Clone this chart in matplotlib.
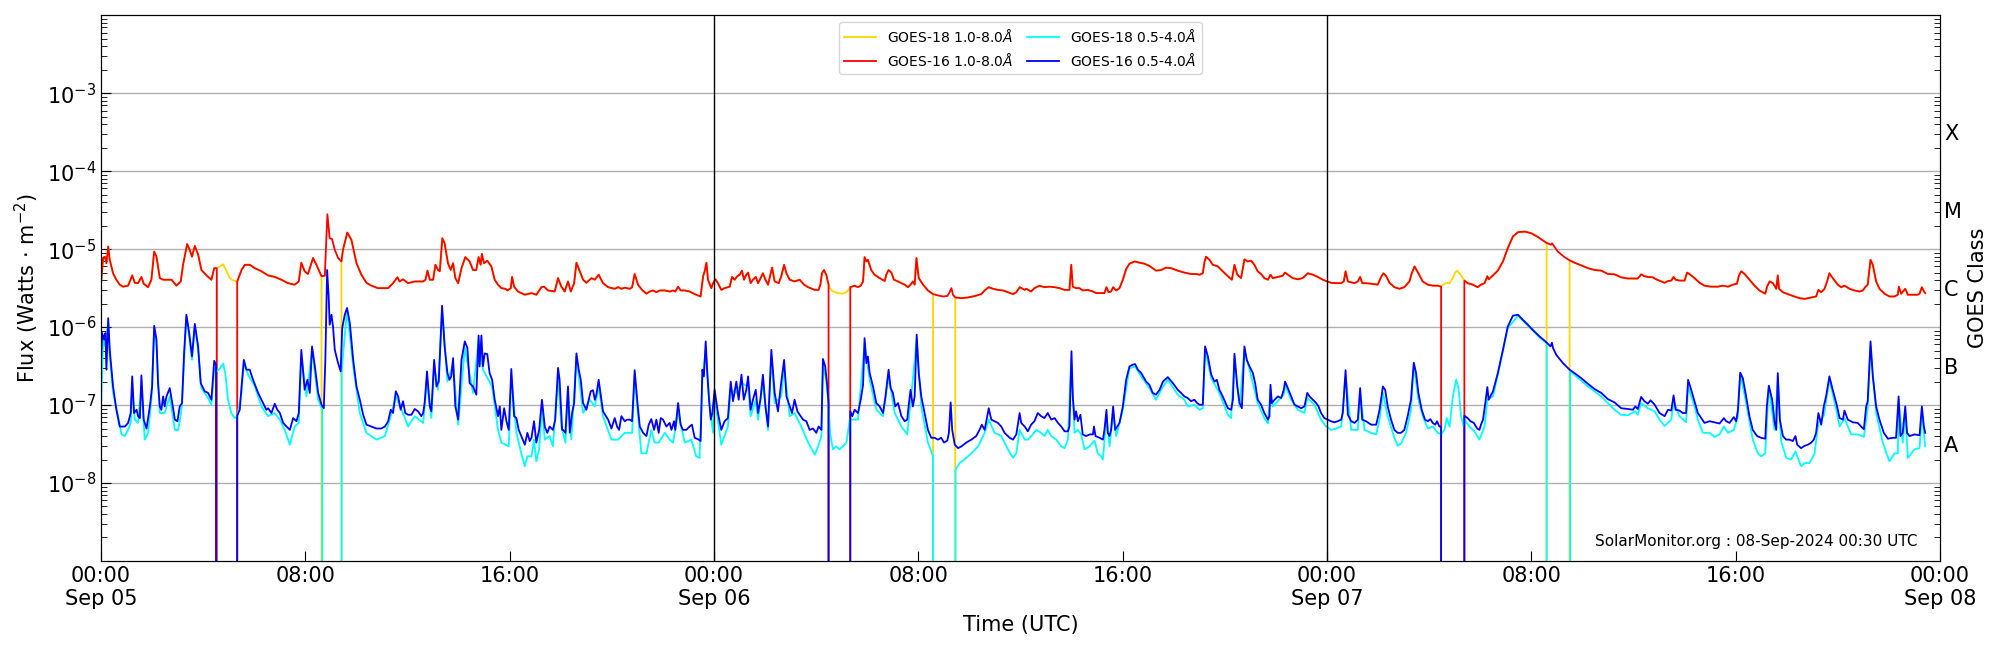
import numpy as np
import pandas as pd
import matplotlib
matplotlib.use("Agg")
import matplotlib.pyplot as plt
import matplotlib.dates as mdates
import matplotlib.ticker as mticker

# hours after 2024-09-05 00:00 UTC, flux in W/m^2 (0.0 = no data)
START = pd.Timestamp("2024-09-05 00:00")

# GOES-16 1.0-8.0 A (red)
goes16_long = [
    (0.00, 3.3e-6), (0.09, 7.7e-6), (0.16, 8.0e-6), (0.22, 6.6e-6), (0.29, 1.08e-5),
    (0.35, 7.3e-6), (0.48, 4.9e-6), (0.61, 4.05e-6), (0.74, 3.5e-6), (0.87, 3.3e-6),
    (1.07, 3.4e-6), (1.23, 4.6e-6), (1.33, 3.7e-6), (1.46, 3.66e-6), (1.59, 4.4e-6),
    (1.68, 3.6e-6), (1.85, 3.25e-6), (1.98, 4.05e-6), (2.09, 9.3e-6), (2.18, 8.0e-6),
    (2.31, 4.25e-6), (2.44, 4.05e-6), (2.64, 4.05e-6), (2.77, 4.05e-6), (2.96, 3.4e-6),
    (3.13, 3.85e-6), (3.22, 6.3e-6), (3.38, 1.16e-5), (3.48, 9.8e-6), (3.57, 8.0e-6),
    (3.68, 1.1e-5), (3.81, 8.5e-6), (3.94, 5.4e-6), (4.14, 4.6e-6), (4.33, 4.05e-6),
    (4.44, 5.7e-6), (4.54, 5.7e-6), (4.56, 0.0), (5.32, 0.0), (5.34, 3.85e-6),
    (5.51, 5.4e-6), (5.64, 6.3e-6), (5.83, 6.3e-6), (6.03, 5.7e-6), (6.29, 5.2e-6),
    (6.55, 4.6e-6), (6.81, 4.4e-6), (7.07, 4.05e-6), (7.33, 3.66e-6), (7.59, 3.5e-6),
    (7.75, 3.85e-6), (7.85, 6.7e-6), (7.98, 5.2e-6), (8.11, 4.8e-6), (8.31, 7.7e-6),
    (8.44, 6.3e-6), (8.64, 4.5e-6), (8.77, 4.55e-6), (8.87, 2.8e-5), (8.96, 1.38e-5),
    (9.05, 1.35e-5), (9.16, 9.8e-6), (9.29, 7.7e-6), (9.42, 6.95e-6), (9.48, 9.8e-6),
    (9.65, 1.63e-5), (9.81, 1.32e-5), (10.01, 6.6e-6), (10.20, 4.7e-6), (10.40, 3.7e-6),
    (10.59, 3.4e-6), (10.85, 3.16e-6), (11.25, 3.16e-6), (11.44, 3.66e-6), (11.61, 4.35e-6),
    (11.70, 3.85e-6), (11.83, 4.1e-6), (12.03, 3.66e-6), (12.29, 3.85e-6), (12.62, 3.85e-6),
    (12.71, 4.05e-6), (12.79, 5.3e-6), (12.88, 4.05e-6), (13.01, 4.05e-6), (13.10, 6.3e-6),
    (13.20, 5.4e-6), (13.27, 5.2e-6), (13.37, 1.38e-5), (13.46, 1.19e-5), (13.59, 6.6e-6),
    (13.70, 5.4e-6), (13.79, 6.6e-6), (13.88, 4.25e-6), (13.99, 3.66e-6), (14.12, 5.7e-6),
    (14.27, 7.9e-6), (14.44, 6.95e-6), (14.57, 5.4e-6), (14.70, 5.4e-6), (14.79, 7.9e-6),
    (14.87, 6.3e-6), (14.92, 8.7e-6), (15.00, 6.6e-6), (15.13, 7.1e-6), (15.29, 6.0e-6),
    (15.42, 4.05e-6), (15.55, 3.5e-6), (15.68, 3.16e-6), (15.84, 3.1e-6), (15.92, 2.95e-6),
    (16.05, 3.16e-6), (16.10, 4.4e-6), (16.18, 3.3e-6), (16.33, 2.86e-6), (16.60, 2.6e-6),
    (16.86, 2.73e-6), (17.05, 2.6e-6), (17.25, 3.25e-6), (17.35, 3.3e-6), (17.51, 2.95e-6),
    (17.77, 2.86e-6), (17.90, 4.25e-6), (18.03, 3.3e-6), (18.16, 2.86e-6), (18.29, 3.85e-6),
    (18.40, 2.86e-6), (18.53, 3.66e-6), (18.62, 6.7e-6), (18.75, 5.2e-6), (18.88, 4.05e-6),
    (19.01, 3.7e-6), (19.21, 4.25e-6), (19.34, 4.05e-6), (19.49, 4.7e-6), (19.66, 3.66e-6),
    (19.86, 3.25e-6), (20.12, 3.1e-6), (20.25, 3.25e-6), (20.38, 3.1e-6), (20.51, 3.2e-6),
    (20.71, 3.1e-6), (20.80, 3.25e-6), (20.90, 4.8e-6), (21.03, 3.5e-6), (21.19, 3.0e-6),
    (21.36, 2.68e-6), (21.49, 2.86e-6), (21.62, 2.95e-6), (21.75, 2.8e-6), (21.88, 2.95e-6),
    (22.08, 2.95e-6), (22.27, 2.86e-6), (22.40, 2.95e-6), (22.49, 2.86e-6), (22.60, 3.3e-6),
    (22.70, 2.95e-6), (22.86, 2.95e-6), (23.05, 2.86e-6), (23.25, 2.65e-6), (23.48, 2.47e-6),
    (23.58, 4.5e-6), (23.64, 5.2e-6), (23.71, 6.7e-6), (23.77, 4.05e-6), (23.90, 3.16e-6),
    # Sep 06
    (23.97, 3.66e-6), (24.06, 4.1e-6), (24.16, 3.66e-6), (24.29, 3.0e-6), (24.42, 3.16e-6),
    (24.62, 3.3e-6), (24.71, 4.4e-6), (24.81, 4.05e-6), (24.92, 4.5e-6), (25.01, 4.7e-6),
    (25.10, 5.3e-6), (25.18, 4.05e-6), (25.27, 4.7e-6), (25.34, 5.0e-6), (25.44, 3.66e-6),
    (25.53, 4.05e-6), (25.64, 4.4e-6), (25.73, 3.66e-6), (25.83, 4.25e-6), (25.92, 4.9e-6),
    (26.02, 4.05e-6), (26.12, 3.5e-6), (26.28, 5.8e-6), (26.38, 3.85e-6), (26.54, 3.66e-6),
    (26.64, 4.5e-6), (26.75, 6.3e-6), (26.84, 4.9e-6), (26.97, 4.05e-6), (27.16, 3.85e-6),
    (27.36, 4.05e-6), (27.53, 3.5e-6), (27.69, 3.25e-6), (27.95, 3.0e-6), (28.10, 3.0e-6),
    (28.17, 3.5e-6), (28.23, 4.9e-6), (28.31, 5.4e-6), (28.40, 4.7e-6), (28.49, 3.5e-6),
    (28.51, 0.0), (29.32, 0.0), (29.34, 3.25e-6), (29.51, 3.4e-6), (29.64, 3.25e-6),
    (29.75, 3.4e-6), (29.84, 3.85e-6), (29.90, 7.9e-6), (29.97, 6.95e-6), (30.03, 7.3e-6),
    (30.16, 5.4e-6), (30.29, 4.7e-6), (30.49, 4.25e-6), (30.69, 3.9e-6), (30.75, 4.7e-6),
    (30.84, 5.4e-6), (30.95, 5.0e-6), (31.05, 4.05e-6), (31.21, 3.85e-6), (31.34, 3.66e-6),
    (31.47, 3.5e-6), (31.60, 3.25e-6), (31.70, 3.5e-6), (31.79, 3.85e-6), (31.86, 3.5e-6),
    (31.93, 7.7e-6), (32.02, 4.25e-6), (32.19, 3.5e-6), (32.38, 2.95e-6), (32.58, 2.65e-6),
    (32.77, 2.55e-6), (32.97, 2.47e-6), (33.14, 2.5e-6), (33.23, 2.8e-6), (33.30, 3.16e-6),
    (33.36, 2.6e-6), (33.45, 2.4e-6), (33.69, 2.35e-6), (33.95, 2.4e-6), (34.21, 2.5e-6),
    (34.47, 2.65e-6), (34.60, 2.95e-6), (34.76, 3.25e-6), (34.93, 3.1e-6), (35.12, 3.0e-6),
    (35.32, 2.95e-6), (35.51, 2.8e-6), (35.71, 2.65e-6), (35.84, 2.8e-6), (35.97, 3.25e-6),
    (36.17, 3.0e-6), (36.23, 3.1e-6), (36.42, 2.86e-6), (36.55, 3.16e-6), (36.75, 3.4e-6),
    (36.94, 3.25e-6), (37.14, 3.3e-6), (37.34, 3.25e-6), (37.53, 3.16e-6), (37.73, 3.0e-6),
    (37.92, 3.0e-6), (37.99, 6.3e-6), (38.05, 3.3e-6), (38.18, 3.16e-6), (38.31, 3.16e-6),
    (38.44, 2.95e-6), (38.64, 3.0e-6), (38.84, 2.86e-6), (38.97, 2.73e-6), (39.19, 2.73e-6),
    (39.29, 2.73e-6), (39.37, 3.25e-6), (39.45, 2.8e-6), (39.55, 2.86e-6), (39.63, 3.25e-6),
    (39.75, 2.95e-6), (39.88, 3.16e-6), (40.01, 4.05e-6), (40.14, 5.55e-6), (40.27, 6.5e-6),
    (40.47, 6.95e-6), (40.66, 6.7e-6), (40.86, 6.5e-6), (41.05, 6.1e-6), (41.31, 5.3e-6),
    (41.51, 5.4e-6), (41.71, 5.8e-6), (41.90, 5.7e-6), (42.16, 5.3e-6), (42.42, 5.0e-6),
    (42.68, 4.8e-6), (42.88, 4.8e-6), (43.01, 4.7e-6), (43.14, 4.9e-6), (43.21, 6.95e-6),
    (43.27, 8.0e-6), (43.40, 7.3e-6), (43.53, 6.3e-6), (43.73, 6.0e-6), (43.92, 5.2e-6),
    (44.12, 4.5e-6), (44.28, 4.05e-6), (44.38, 6.3e-6), (44.49, 4.7e-6), (44.64, 4.25e-6),
    (44.77, 7.4e-6), (44.90, 6.95e-6), (45.03, 7.1e-6), (45.16, 6.3e-6), (45.29, 5.2e-6),
    (45.42, 4.8e-6), (45.55, 4.25e-6), (45.69, 4.05e-6), (45.79, 4.7e-6), (45.88, 4.25e-6),
    (46.08, 4.4e-6), (46.27, 4.55e-6), (46.36, 5.0e-6), (46.47, 4.7e-6), (46.66, 4.25e-6),
    (46.86, 4.1e-6), (47.05, 4.25e-6), (47.25, 4.9e-6), (47.45, 4.7e-6), (47.64, 4.4e-6),
    (47.84, 4.05e-6),
    # Sep 07
    (47.97, 3.9e-6), (48.16, 3.7e-6), (48.36, 3.66e-6), (48.56, 3.66e-6), (48.66, 3.85e-6),
    (48.73, 5.2e-6), (48.82, 3.85e-6), (49.08, 3.66e-6), (49.21, 3.85e-6), (49.30, 4.4e-6),
    (49.38, 3.66e-6), (49.53, 3.66e-6), (49.73, 3.6e-6), (49.99, 3.5e-6), (50.12, 4.4e-6),
    (50.21, 4.9e-6), (50.32, 4.5e-6), (50.45, 3.7e-6), (50.64, 3.25e-6), (50.84, 3.1e-6),
    (51.03, 3.25e-6), (51.23, 3.85e-6), (51.32, 4.9e-6), (51.43, 6.0e-6), (51.58, 4.9e-6),
    (51.75, 3.85e-6), (51.95, 3.5e-6), (52.14, 3.4e-6), (52.34, 3.4e-6), (52.47, 3.3e-6),
    (52.49, 0.0), (53.36, 0.0), (53.38, 3.95e-6), (53.51, 3.66e-6), (53.71, 3.5e-6),
    (53.90, 3.25e-6), (54.03, 3.5e-6), (54.17, 3.66e-6), (54.28, 4.5e-6), (54.33, 4.1e-6),
    (54.50, 4.6e-6), (54.69, 5.3e-6), (54.89, 6.95e-6), (55.08, 1.03e-5), (55.28, 1.45e-5),
    (55.48, 1.65e-5), (55.74, 1.68e-5), (56.00, 1.6e-5), (56.26, 1.43e-5), (56.52, 1.25e-5),
    (56.60, 1.2e-5), (56.78, 1.14e-5), (56.81, 1.19e-5), (57.04, 9.3e-6), (57.30, 7.9e-6),
    (57.50, 7.2e-6), (57.69, 6.7e-6), (57.95, 6.2e-6), (58.22, 5.7e-6), (58.48, 5.4e-6),
    (58.74, 5.3e-6), (59.00, 4.8e-6), (59.26, 4.75e-6), (59.52, 4.35e-6), (59.78, 4.2e-6),
    (60.04, 4.2e-6), (60.17, 4.2e-6), (60.30, 4.75e-6), (60.43, 4.5e-6), (60.56, 4.4e-6),
    (60.76, 4.35e-6), (60.89, 4.1e-6), (61.09, 3.85e-6), (61.22, 3.7e-6), (61.35, 3.9e-6),
    (61.48, 3.95e-6), (61.57, 4.4e-6), (61.65, 4.05e-6), (61.80, 3.95e-6), (62.00, 3.95e-6),
    (62.10, 5.0e-6), (62.19, 4.8e-6), (62.39, 4.25e-6), (62.59, 3.7e-6), (62.78, 3.4e-6),
    (63.04, 3.3e-6), (63.30, 3.3e-6), (63.50, 3.4e-6), (63.70, 3.3e-6), (63.89, 3.5e-6),
    (64.05, 3.6e-6), (64.13, 4.6e-6), (64.22, 5.2e-6), (64.35, 4.8e-6), (64.54, 4.05e-6),
    (64.74, 3.4e-6), (64.93, 2.95e-6), (65.06, 2.8e-6), (65.16, 2.68e-6), (65.23, 3.3e-6),
    (65.33, 3.85e-6), (65.46, 3.66e-6), (65.59, 3.1e-6), (65.65, 4.6e-6), (65.70, 3.1e-6),
    (65.85, 2.8e-6), (66.04, 2.65e-6), (66.30, 2.47e-6), (66.50, 2.35e-6), (66.70, 2.3e-6),
    (66.96, 2.4e-6), (67.15, 2.47e-6), (67.24, 3.0e-6), (67.35, 2.8e-6), (67.48, 3.1e-6),
    (67.58, 3.85e-6), (67.67, 4.9e-6), (67.80, 4.25e-6), (68.00, 3.5e-6), (68.13, 3.25e-6),
    (68.26, 3.4e-6), (68.46, 3.1e-6), (68.65, 2.95e-6), (68.85, 2.86e-6), (68.98, 2.95e-6),
    (69.07, 3.25e-6), (69.17, 3.5e-6), (69.28, 7.3e-6), (69.37, 6.3e-6), (69.50, 3.85e-6),
    (69.63, 3.1e-6), (69.83, 2.68e-6), (70.02, 2.47e-6), (70.22, 2.47e-6), (70.35, 2.6e-6),
    (70.39, 3.3e-6), (70.48, 2.68e-6), (70.64, 3.1e-6), (70.74, 2.6e-6), (70.94, 2.6e-6),
    (71.13, 2.6e-6), (71.20, 2.68e-6), (71.29, 3.25e-6), (71.39, 2.8e-6), (71.42, 2.73e-6),
]

# GOES-16 0.5-4.0 A (blue)
goes16_short = [
    (0.00, 3.0e-7), (0.05, 8.4e-7), (0.13, 6.9e-7), (0.18, 8.4e-7), (0.22, 2.84e-7),
    (0.29, 1.3e-6), (0.35, 5.1e-7), (0.48, 1.73e-7), (0.61, 8.7e-8), (0.74, 5.3e-8),
    (0.94, 5.3e-8), (1.07, 5.9e-8), (1.17, 7.9e-8), (1.23, 2.33e-7), (1.30, 7.9e-8),
    (1.40, 8.7e-8), (1.46, 7.2e-8), (1.53, 6.8e-8), (1.59, 2.4e-7), (1.68, 6.5e-8),
    (1.79, 5.0e-8), (1.92, 9.6e-8), (2.01, 1.73e-7), (2.09, 1.04e-6), (2.18, 6.9e-7),
    (2.24, 1.91e-7), (2.31, 9.6e-8), (2.37, 8.7e-8), (2.44, 1.29e-7), (2.50, 9.6e-8),
    (2.57, 1.29e-7), (2.70, 1.65e-7), (2.79, 1.1e-7), (2.90, 6.5e-8), (3.00, 6.2e-8),
    (3.09, 9.6e-8), (3.18, 1.06e-7), (3.26, 4.6e-7), (3.35, 1.44e-6), (3.46, 8.4e-7),
    (3.57, 4.2e-7), (3.68, 1.1e-6), (3.81, 5.65e-7), (3.91, 1.91e-7), (4.07, 1.5e-7),
    (4.20, 1.43e-7), (4.33, 1.17e-7), (4.44, 3.7e-7), (4.51, 3.3e-7), (4.56, 0.0),
    (5.32, 0.0), (5.34, 7.3e-8), (5.44, 8.7e-8), (5.51, 1.73e-7), (5.60, 3.8e-7),
    (5.70, 2.84e-7), (5.83, 2.84e-7), (5.96, 2.11e-7), (6.16, 1.43e-7), (6.35, 1.06e-7),
    (6.48, 8.7e-8), (6.55, 9.1e-8), (6.68, 7.9e-8), (6.81, 1.04e-7), (6.91, 8.7e-8),
    (7.01, 7.9e-8), (7.14, 5.9e-8), (7.27, 5.3e-8), (7.40, 4.8e-8), (7.53, 6.8e-8),
    (7.66, 6.2e-8), (7.75, 7.9e-8), (7.85, 5.1e-7), (7.98, 1.57e-7), (8.09, 2.11e-7),
    (8.18, 1.43e-7), (8.27, 5.65e-7), (8.38, 3.13e-7), (8.51, 1.43e-7), (8.64, 1.01e-7),
    (8.73, 9.1e-8), (8.79, 3.8e-7), (8.86, 5.4e-6), (8.92, 2.47e-6), (8.96, 1.07e-6),
    (9.03, 1.44e-6), (9.09, 1.02e-6), (9.16, 5.1e-7), (9.29, 3.45e-7), (9.39, 2.7e-7),
    (9.45, 9.7e-7), (9.55, 1.44e-6), (9.64, 1.76e-6), (9.75, 1.12e-6), (9.88, 3.8e-7),
    (10.01, 1.73e-7), (10.14, 1.17e-7), (10.27, 7.5e-8), (10.40, 5.6e-8), (10.59, 5.3e-8),
    (10.79, 5.0e-8), (10.98, 5.0e-8), (11.12, 5.3e-8), (11.25, 6.2e-8), (11.35, 8.7e-8),
    (11.44, 7.9e-8), (11.55, 1.5e-7), (11.64, 1.29e-7), (11.74, 8.7e-8), (11.83, 1.12e-7),
    (11.92, 7.9e-8), (12.03, 7.5e-8), (12.16, 7.5e-8), (12.29, 8.9e-8), (12.42, 8.3e-8),
    (12.55, 7.2e-8), (12.62, 7.9e-8), (12.68, 1.08e-7), (12.77, 2.7e-7), (12.88, 9.6e-8),
    (12.94, 8.3e-8), (13.05, 3.8e-7), (13.14, 1.73e-7), (13.23, 2.0e-7), (13.36, 1.88e-6),
    (13.46, 5.65e-7), (13.57, 2.57e-7), (13.65, 2.11e-7), (13.72, 2.33e-7), (13.79, 4.0e-7),
    (13.88, 9.6e-8), (13.99, 6.5e-8), (14.12, 3.8e-7), (14.25, 6.55e-7), (14.35, 5.4e-7),
    (14.44, 1.91e-7), (14.57, 1.73e-7), (14.70, 1.36e-7), (14.79, 7.8e-7), (14.83, 3.13e-7),
    (14.90, 7.8e-7), (14.96, 3.13e-7), (15.03, 4.6e-7), (15.13, 4.5e-7), (15.22, 2.57e-7),
    (15.32, 2.11e-7), (15.42, 1.17e-7), (15.55, 7.2e-8), (15.62, 9.6e-8), (15.68, 4.8e-8),
    (15.79, 9.1e-8), (15.88, 6.2e-8), (15.97, 4.8e-8), (16.07, 2.9e-7), (16.18, 7.2e-8),
    (16.27, 6.8e-8), (16.36, 4.8e-8), (16.46, 4.0e-8), (16.60, 3.1e-8), (16.70, 4.4e-8),
    (16.79, 3.45e-8), (16.86, 3.8e-8), (16.96, 6.2e-8), (17.05, 3.3e-8), (17.16, 4.8e-8),
    (17.27, 1.17e-7), (17.38, 5.3e-8), (17.48, 4.4e-8), (17.57, 5.3e-8), (17.70, 4.8e-8),
    (17.79, 6.5e-8), (17.90, 3.0e-7), (17.96, 2.11e-7), (18.06, 4.8e-8), (18.10, 4.8e-8),
    (18.19, 4.4e-8), (18.29, 1.73e-7), (18.36, 4.4e-8), (18.45, 7.9e-8), (18.53, 1.06e-7),
    (18.62, 4.6e-7), (18.71, 2.84e-7), (18.79, 2.11e-7), (18.88, 1.06e-7), (19.01, 8.7e-8),
    (19.10, 1.17e-7), (19.18, 1.5e-7), (19.27, 1.55e-7), (19.34, 1.17e-7), (19.40, 1.36e-7),
    (19.49, 2.11e-7), (19.60, 1.17e-7), (19.66, 8.3e-8), (19.86, 6.5e-8), (19.99, 5.0e-8),
    (20.12, 6.8e-8), (20.21, 5.3e-8), (20.29, 4.8e-8), (20.38, 7.2e-8), (20.51, 6.2e-8),
    (20.61, 6.5e-8), (20.71, 6.5e-8), (20.80, 6.2e-8), (20.90, 2.8e-7), (21.01, 1.06e-7),
    (21.10, 5.3e-8), (21.23, 4.4e-8), (21.36, 4.0e-8), (21.45, 5.6e-8), (21.55, 6.6e-8),
    (21.66, 4.8e-8), (21.75, 6.5e-8), (21.84, 4.4e-8), (21.92, 6.8e-8), (22.01, 6.5e-8),
    (22.14, 5.3e-8), (22.27, 5.9e-8), (22.34, 4.8e-8), (22.44, 6.2e-8), (22.49, 4.8e-8),
    (22.60, 1.06e-7), (22.70, 5.6e-8), (22.79, 4.8e-8), (22.92, 4.8e-8), (23.05, 5.3e-8),
    (23.14, 5.6e-8), (23.25, 3.8e-8), (23.41, 3.6e-8), (23.48, 3.45e-8), (23.55, 2.84e-7),
    (23.61, 2.33e-7), (23.68, 6.55e-7), (23.75, 2.33e-7), (23.81, 1.17e-7), (23.88, 6.5e-8),
    # Sep 06
    (23.94, 7.9e-8), (24.03, 1.57e-7), (24.16, 7.9e-8), (24.29, 4.8e-8), (24.42, 6.2e-8),
    (24.55, 6.8e-8), (24.66, 2.0e-7), (24.75, 1.12e-7), (24.88, 2.0e-7), (24.97, 1.17e-7),
    (25.08, 2.45e-7), (25.17, 1.17e-7), (25.27, 1.57e-7), (25.34, 2.33e-7), (25.44, 8.7e-8),
    (25.53, 1.17e-7), (25.64, 1.57e-7), (25.73, 7.9e-8), (25.82, 1.17e-7), (25.92, 2.45e-7),
    (26.02, 9.6e-8), (26.12, 5.3e-8), (26.25, 5.1e-7), (26.38, 1.43e-7), (26.51, 8.3e-8),
    (26.64, 2.0e-7), (26.75, 3.8e-7), (26.84, 1.29e-7), (26.97, 9.6e-8), (27.06, 7.9e-8),
    (27.16, 1.17e-7), (27.27, 8.3e-8), (27.36, 7.5e-8), (27.49, 6.5e-8), (27.62, 6.2e-8),
    (27.75, 4.8e-8), (27.88, 5.0e-8), (28.01, 4.4e-8), (28.10, 5.3e-8), (28.21, 4.8e-8),
    (28.27, 3.9e-7), (28.36, 3.13e-7), (28.44, 1.73e-7), (28.49, 1.06e-7), (28.51, 0.0),
    (29.32, 0.0), (29.34, 8.3e-8), (29.42, 7.2e-8), (29.51, 8.7e-8), (29.64, 7.9e-8),
    (29.75, 1.17e-7), (29.84, 1.8e-7), (29.90, 7.2e-7), (29.97, 3.45e-7), (30.03, 4.2e-7),
    (30.10, 2.57e-7), (30.23, 1.73e-7), (30.36, 1.06e-7), (30.49, 9.6e-8), (30.62, 7.9e-8),
    (30.71, 1.23e-7), (30.84, 2.84e-7), (30.92, 1.65e-7), (31.01, 1.43e-7), (31.10, 9.6e-8),
    (31.21, 1.06e-7), (31.34, 7.2e-8), (31.47, 6.2e-8), (31.57, 6.5e-8), (31.63, 1.01e-7),
    (31.70, 1.57e-7), (31.79, 9.6e-8), (31.86, 1.29e-7), (31.94, 8.0e-7), (32.02, 2.57e-7),
    (32.12, 1.29e-7), (32.25, 7.9e-8), (32.38, 4.8e-8), (32.51, 3.8e-8), (32.64, 3.8e-8),
    (32.77, 3.6e-8), (32.90, 3.8e-8), (33.01, 3.3e-8), (33.14, 3.5e-8), (33.20, 4.4e-8),
    (33.27, 1.08e-7), (33.33, 4.8e-8), (33.43, 3.1e-8), (33.56, 2.8e-8), (33.69, 2.95e-8),
    (33.88, 3.3e-8), (34.08, 3.6e-8), (34.27, 4.0e-8), (34.40, 4.8e-8), (34.49, 5.6e-8),
    (34.60, 4.8e-8), (34.76, 9.1e-8), (34.86, 6.5e-8), (34.99, 6.2e-8), (35.12, 5.9e-8),
    (35.25, 5.3e-8), (35.38, 4.4e-8), (35.58, 3.8e-8), (35.71, 3.6e-8), (35.84, 4.2e-8),
    (35.97, 7.9e-8), (36.03, 5.9e-8), (36.17, 5.3e-8), (36.29, 4.6e-8), (36.42, 5.6e-8),
    (36.55, 6.2e-8), (36.68, 7.9e-8), (36.81, 7.2e-8), (36.94, 6.8e-8), (37.07, 7.9e-8),
    (37.21, 6.5e-8), (37.34, 6.8e-8), (37.47, 5.9e-8), (37.60, 5.3e-8), (37.73, 4.6e-8),
    (37.86, 4.6e-8), (37.92, 5.3e-8), (38.00, 4.9e-7), (38.05, 1.29e-7), (38.12, 6.5e-8),
    (38.18, 8.3e-8), (38.25, 6.2e-8), (38.35, 7.5e-8), (38.44, 4.2e-8), (38.57, 4.0e-8),
    (38.71, 4.2e-8), (38.84, 4.2e-8), (38.88, 5.3e-8), (38.94, 4.0e-8), (39.10, 3.8e-8),
    (39.23, 3.6e-8), (39.29, 4.8e-8), (39.37, 8.7e-8), (39.42, 4.4e-8), (39.49, 4.0e-8),
    (39.55, 4.8e-8), (39.63, 9.6e-8), (39.71, 4.8e-8), (39.88, 5.9e-8), (40.01, 9.6e-8),
    (40.14, 2.11e-7), (40.27, 3.13e-7), (40.40, 3.3e-7), (40.49, 3.35e-7), (40.60, 2.84e-7),
    (40.73, 2.57e-7), (40.92, 2.0e-7), (41.05, 1.82e-7), (41.18, 1.43e-7), (41.31, 1.36e-7),
    (41.45, 1.57e-7), (41.58, 2.0e-7), (41.77, 2.28e-7), (41.97, 1.91e-7), (42.16, 1.57e-7),
    (42.29, 1.43e-7), (42.42, 1.29e-7), (42.55, 1.23e-7), (42.68, 1.12e-7), (42.81, 1.17e-7),
    (42.92, 1.06e-7), (43.01, 1.01e-7), (43.14, 1.01e-7), (43.23, 5.65e-7), (43.34, 4.2e-7),
    (43.47, 2.45e-7), (43.60, 2.0e-7), (43.69, 2.11e-7), (43.79, 1.57e-7), (43.92, 1.29e-7),
    (44.12, 9.1e-8), (44.25, 8.7e-8), (44.32, 1.17e-7), (44.38, 4.55e-7), (44.49, 1.73e-7),
    (44.58, 1.06e-7), (44.67, 9.1e-8), (44.77, 5.65e-7), (44.86, 3.8e-7), (44.97, 3.13e-7),
    (45.10, 2.57e-7), (45.19, 1.91e-7), (45.29, 1.17e-7), (45.42, 1.01e-7), (45.55, 7.9e-8),
    (45.69, 6.5e-8), (45.75, 7.2e-8), (45.79, 1.82e-7), (45.84, 1.06e-7), (45.95, 1.17e-7),
    (46.08, 1.29e-7), (46.21, 1.23e-7), (46.31, 1.57e-7), (46.36, 2.0e-7), (46.47, 1.65e-7),
    (46.60, 1.29e-7), (46.73, 1.01e-7), (46.86, 9.6e-8), (46.99, 9.1e-8), (47.12, 9.6e-8),
    (47.23, 1.43e-7), (47.32, 1.29e-7), (47.45, 1.17e-7), (47.58, 1.06e-7), (47.67, 9.6e-8),
    (47.77, 7.9e-8), (47.90, 6.8e-8),
    # Sep 07
    (48.03, 6.5e-8), (48.16, 6.2e-8), (48.29, 6.0e-8), (48.42, 6.2e-8), (48.56, 6.5e-8),
    (48.62, 7.9e-8), (48.73, 2.8e-7), (48.82, 7.5e-8), (48.95, 6.2e-8), (49.08, 5.9e-8),
    (49.21, 6.5e-8), (49.30, 1.65e-7), (49.38, 6.5e-8), (49.53, 6.2e-8), (49.73, 5.6e-8),
    (49.93, 5.6e-8), (50.06, 8.7e-8), (50.19, 1.73e-7), (50.28, 1.57e-7), (50.38, 9.6e-8),
    (50.51, 6.5e-8), (50.64, 4.8e-8), (50.77, 4.4e-8), (50.90, 4.4e-8), (51.03, 4.8e-8),
    (51.16, 7.2e-8), (51.29, 1.17e-7), (51.40, 3.5e-7), (51.49, 2.57e-7), (51.58, 1.43e-7),
    (51.71, 8.7e-8), (51.84, 6.5e-8), (51.95, 6.2e-8), (52.05, 6.6e-8), (52.14, 5.9e-8),
    (52.24, 5.6e-8), (52.31, 6.2e-8), (52.40, 5.3e-8), (52.47, 5.3e-8), (52.49, 0.0),
    (53.36, 0.0), (53.38, 7.3e-8), (53.51, 6.8e-8), (53.62, 6.2e-8), (53.75, 5.9e-8),
    (53.88, 5.0e-8), (53.97, 4.8e-8), (54.03, 5.6e-8), (54.11, 6.5e-8), (54.20, 1.06e-7),
    (54.28, 1.7e-7), (54.33, 1.17e-7), (54.50, 1.5e-7), (54.69, 2.57e-7), (54.89, 5.1e-7),
    (55.08, 1.02e-6), (55.28, 1.4e-6), (55.48, 1.44e-6), (55.67, 1.24e-6), (55.87, 1.07e-6),
    (56.06, 9.2e-7), (56.32, 7.6e-7), (56.52, 6.7e-7), (56.61, 6.3e-7), (56.75, 5.65e-7),
    (56.81, 6.3e-7), (56.85, 5.4e-7), (56.98, 4.4e-7), (57.24, 3.45e-7), (57.50, 2.84e-7),
    (57.69, 2.57e-7), (57.95, 2.22e-7), (58.22, 1.87e-7), (58.48, 1.6e-7), (58.74, 1.43e-7),
    (59.00, 1.19e-7), (59.26, 1.08e-7), (59.52, 9.1e-8), (59.78, 8.9e-8), (59.98, 8.7e-8),
    (60.07, 9.6e-8), (60.17, 8.9e-8), (60.30, 1.27e-7), (60.43, 1.12e-7), (60.56, 1.04e-7),
    (60.67, 1.15e-7), (60.83, 1.01e-7), (61.02, 7.9e-8), (61.22, 7.2e-8), (61.35, 8.7e-8),
    (61.48, 8.5e-8), (61.57, 1.33e-7), (61.65, 8.7e-8), (61.80, 8.5e-8), (61.93, 7.9e-8),
    (62.06, 7.9e-8), (62.14, 2.11e-7), (62.26, 1.57e-7), (62.39, 1.12e-7), (62.52, 7.9e-8),
    (62.78, 5.9e-8), (62.98, 6.2e-8), (63.17, 6.0e-8), (63.37, 5.8e-8), (63.54, 6.8e-8),
    (63.63, 6.2e-8), (63.76, 5.9e-8), (63.93, 7.0e-8), (64.02, 6.2e-8), (64.09, 8.7e-8),
    (64.18, 2.6e-7), (64.28, 2.22e-7), (64.41, 1.29e-7), (64.54, 7.2e-8), (64.67, 4.8e-8),
    (64.84, 4.0e-8), (65.00, 3.8e-8), (65.16, 3.7e-8), (65.22, 9.6e-8), (65.30, 1.77e-7),
    (65.43, 1.17e-7), (65.52, 6.2e-8), (65.59, 4.8e-8), (65.65, 2.57e-7), (65.73, 6.5e-8),
    (65.85, 4.0e-8), (65.98, 3.6e-8), (66.11, 3.6e-8), (66.24, 3.45e-8), (66.34, 4.0e-8),
    (66.41, 3.1e-8), (66.56, 2.8e-8), (66.70, 3.0e-8), (66.83, 3.1e-8), (66.96, 3.3e-8),
    (67.06, 3.6e-8), (67.15, 4.4e-8), (67.24, 7.9e-8), (67.35, 5.6e-8), (67.45, 9.6e-8),
    (67.54, 1.29e-7), (67.67, 2.33e-7), (67.80, 1.57e-7), (67.94, 1.06e-7), (68.07, 6.8e-8),
    (68.20, 6.5e-8), (68.26, 8.5e-8), (68.39, 6.5e-8), (68.59, 6.0e-8), (68.78, 5.9e-8),
    (68.91, 5.3e-8), (69.02, 4.9e-8), (69.11, 9.6e-8), (69.17, 1.12e-7), (69.28, 6.55e-7),
    (69.37, 2.33e-7), (69.50, 9.6e-8), (69.63, 6.5e-8), (69.80, 4.4e-8), (69.96, 3.7e-8),
    (70.15, 3.8e-8), (70.28, 3.8e-8), (70.38, 1.29e-7), (70.45, 4.0e-8), (70.54, 4.4e-8),
    (70.64, 9.6e-8), (70.71, 4.4e-8), (70.81, 4.0e-8), (71.00, 4.2e-8), (71.20, 4.1e-8),
    (71.29, 9.6e-8), (71.37, 5.3e-8), (71.42, 4.4e-8),
]

# GOES-18 0.5-4.0 A (cyan)
goes18_short = [
    (0.00, 7.2e-8), (0.09, 6.9e-7), (0.18, 5.65e-7), (0.29, 1.12e-6), (0.35, 4.2e-7),
    (0.48, 1.43e-7), (0.68, 7.2e-8), (0.81, 4.2e-8), (0.94, 4.0e-8), (1.07, 4.8e-8),
    (1.17, 5.9e-8), (1.23, 1.73e-7), (1.33, 6.5e-8), (1.46, 5.9e-8), (1.59, 1.73e-7),
    (1.72, 3.6e-8), (1.85, 4.4e-8), (1.98, 1.17e-7), (2.09, 9.7e-7), (2.18, 5.65e-7),
    (2.31, 7.9e-8), (2.50, 7.9e-8), (2.70, 1.29e-7), (2.90, 4.8e-8), (3.03, 4.8e-8),
    (3.16, 8.7e-8), (3.26, 3.8e-7), (3.35, 1.37e-6), (3.46, 7.6e-7), (3.57, 3.8e-7),
    (3.68, 1.02e-6), (3.81, 5.1e-7), (3.94, 1.65e-7), (4.20, 1.23e-7), (4.33, 1.01e-7),
    (4.44, 2.95e-7), (4.54, 2.7e-7), (4.66, 2.95e-7), (4.79, 3.4e-7), (4.88, 2.45e-7),
    (4.98, 1.17e-7), (5.11, 7.9e-8), (5.24, 6.8e-8), (5.34, 7.2e-8), (5.51, 1.43e-7),
    (5.60, 3.45e-7), (5.77, 2.45e-7), (6.03, 1.73e-7), (6.29, 9.6e-8), (6.55, 7.2e-8),
    (6.81, 7.9e-8), (7.01, 6.5e-8), (7.20, 4.8e-8), (7.40, 3.1e-8), (7.59, 5.3e-8),
    (7.75, 5.9e-8), (7.85, 4.2e-7), (8.05, 1.29e-7), (8.27, 5.1e-7), (8.51, 1.17e-7),
    (8.67, 8.7e-8), (8.68, 0.0), (9.41, 0.0), (9.43, 2.7e-7), (9.64, 1.67e-6),
    (9.88, 3.13e-7), (10.14, 7.9e-8), (10.40, 4.4e-8), (10.79, 3.6e-8), (11.12, 4.0e-8),
    (11.35, 7.2e-8), (11.55, 1.29e-7), (11.83, 7.9e-8), (12.03, 5.3e-8), (12.29, 7.2e-8),
    (12.62, 5.9e-8), (12.77, 2.0e-7), (12.94, 6.8e-8), (13.05, 3.13e-7), (13.20, 1.57e-7),
    (13.36, 1.67e-6), (13.57, 2.0e-7), (13.79, 3.3e-7), (13.99, 5.6e-8), (14.25, 5.4e-7),
    (14.57, 1.43e-7), (14.79, 6.9e-7), (14.96, 2.84e-7), (15.32, 1.73e-7), (15.55, 4.8e-8),
    (15.68, 3.3e-8), (15.97, 2.95e-8), (16.07, 2.33e-7), (16.27, 4.4e-8), (16.46, 2.4e-8),
    (16.60, 1.64e-8), (16.70, 2.2e-8), (16.86, 2.2e-8), (16.96, 3.6e-8), (17.05, 1.9e-8),
    (17.16, 2.7e-8), (17.27, 9.6e-8), (17.38, 3.6e-8), (17.57, 4.0e-8), (17.70, 2.95e-8),
    (17.90, 2.45e-7), (18.03, 5.3e-8), (18.19, 3.3e-8), (18.29, 1.43e-7), (18.42, 3.6e-8),
    (18.62, 4.2e-7), (18.88, 7.9e-8), (19.14, 1.17e-7), (19.34, 9.6e-8), (19.49, 1.73e-7),
    (19.66, 7.2e-8), (19.99, 3.6e-8), (20.25, 3.6e-8), (20.51, 4.4e-8), (20.80, 4.4e-8),
    (20.90, 2.33e-7), (21.16, 2.4e-8), (21.36, 2.4e-8), (21.55, 4.8e-8), (21.68, 3.3e-8),
    (21.84, 3.3e-8), (22.08, 4.4e-8), (22.27, 3.6e-8), (22.40, 3.3e-8), (22.60, 7.9e-8),
    (22.86, 3.3e-8), (23.12, 3.6e-8), (23.31, 2.2e-8), (23.44, 2.1e-8), (23.55, 2.11e-7),
    (23.68, 5.1e-7), (23.84, 9.6e-8),
    # Sep 06
    (23.97, 4.4e-8), (24.03, 1.29e-7), (24.29, 3.1e-8), (24.55, 5.3e-8), (24.66, 1.57e-7),
    (24.88, 1.43e-7), (25.08, 1.91e-7), (25.34, 1.73e-7), (25.44, 7.2e-8), (25.64, 1.17e-7),
    (25.73, 6.5e-8), (25.92, 2.0e-7), (26.12, 4.8e-8), (26.25, 4.2e-7), (26.38, 1.06e-7),
    (26.64, 1.29e-7), (26.75, 3.13e-7), (26.97, 7.2e-8), (27.16, 7.9e-8), (27.42, 5.3e-8),
    (27.69, 3.3e-8), (27.95, 2.3e-8), (28.08, 2.95e-8), (28.21, 4.0e-8), (28.27, 3.3e-7),
    (28.40, 2.11e-7), (28.49, 9.6e-8), (28.55, 4.4e-8), (28.66, 2.7e-8), (28.79, 2.95e-8),
    (28.92, 2.7e-8), (29.05, 2.95e-8), (29.19, 3.3e-8), (29.32, 6.5e-8), (29.42, 6.5e-8),
    (29.64, 6.5e-8), (29.90, 6.2e-7), (30.10, 2.11e-7), (30.36, 8.7e-8), (30.62, 7.2e-8),
    (30.84, 2.33e-7), (31.08, 7.9e-8), (31.34, 5.3e-8), (31.57, 4.2e-8), (31.70, 1.06e-7),
    (31.94, 6.9e-7), (32.12, 9.6e-8), (32.38, 3.3e-8), (32.58, 2.2e-8), (32.62, 0.0),
    (33.44, 0.0), (33.46, 1.48e-8), (33.62, 1.8e-8), (33.81, 2.0e-8), (34.08, 2.4e-8),
    (34.34, 2.95e-8), (34.60, 4.4e-8), (34.76, 6.5e-8), (34.99, 4.4e-8), (35.25, 4.0e-8),
    (35.51, 2.7e-8), (35.71, 2.1e-8), (35.84, 2.4e-8), (35.97, 4.8e-8), (36.17, 3.6e-8),
    (36.29, 3.6e-8), (36.49, 4.2e-8), (36.62, 4.8e-8), (36.81, 4.4e-8), (36.94, 4.0e-8),
    (37.07, 4.8e-8), (37.21, 4.0e-8), (37.40, 3.6e-8), (37.60, 2.95e-8), (37.73, 2.8e-8),
    (37.86, 3.6e-8), (37.99, 3.8e-7), (38.12, 4.4e-8), (38.25, 4.8e-8), (38.38, 4.2e-8),
    (38.51, 2.7e-8), (38.71, 2.95e-8), (38.90, 3.5e-8), (39.03, 2.4e-8), (39.16, 2.2e-8),
    (39.23, 2.0e-8), (39.37, 7.2e-8), (39.49, 2.95e-8), (39.63, 7.9e-8), (39.75, 4.0e-8),
    (40.01, 8.7e-8), (40.27, 2.95e-7), (40.49, 3.13e-7), (40.73, 2.33e-7), (41.05, 1.65e-7),
    (41.31, 1.17e-7), (41.58, 1.73e-7), (41.77, 2.11e-7), (42.16, 1.36e-7), (42.42, 1.17e-7),
    (42.55, 9.6e-8), (42.81, 1.01e-7), (43.01, 8.7e-8), (43.14, 9.1e-8), (43.23, 5.1e-7),
    (43.47, 2.22e-7), (43.79, 1.43e-7), (44.12, 7.5e-8), (44.25, 6.8e-8), (44.38, 4.0e-7),
    (44.58, 9.6e-8), (44.77, 5.1e-7), (44.97, 2.84e-7), (45.29, 1.06e-7), (45.55, 6.8e-8),
    (45.69, 5.8e-8), (45.79, 1.57e-7), (45.88, 9.6e-8), (46.08, 1.12e-7), (46.31, 1.36e-7),
    (46.36, 1.82e-7), (46.60, 1.17e-7), (46.86, 8.7e-8), (47.12, 7.9e-8), (47.23, 1.23e-7),
    (47.51, 1.01e-7), (47.77, 6.5e-8), (47.97, 5.3e-8),
    # Sep 07
    (48.16, 4.8e-8), (48.36, 5.0e-8), (48.56, 5.3e-8), (48.73, 2.33e-7), (48.95, 4.8e-8),
    (49.21, 4.8e-8), (49.30, 1.43e-7), (49.47, 4.8e-8), (49.73, 4.4e-8), (49.93, 4.2e-8),
    (50.06, 6.5e-8), (50.19, 1.43e-7), (50.38, 7.2e-8), (50.64, 3.8e-8), (50.77, 3.0e-8),
    (50.90, 3.2e-8), (51.10, 4.4e-8), (51.29, 8.7e-8), (51.40, 3.3e-7), (51.58, 1.17e-7),
    (51.75, 7.2e-8), (51.95, 5.0e-8), (52.14, 5.3e-8), (52.34, 4.4e-8), (52.47, 4.2e-8),
    (52.60, 4.8e-8), (52.69, 6.8e-8), (52.80, 5.3e-8), (52.93, 1.29e-7), (53.06, 2.11e-7),
    (53.15, 1.65e-7), (53.25, 7.2e-8), (53.36, 5.3e-8), (53.38, 6.5e-8), (53.58, 5.3e-8),
    (53.77, 4.6e-8), (53.97, 3.6e-8), (54.17, 5.3e-8), (54.28, 1.17e-7), (54.50, 1.29e-7),
    (54.69, 2.45e-7), (55.08, 9.7e-7), (55.48, 1.4e-6), (55.87, 1.04e-6), (56.32, 7.4e-7),
    (56.60, 6.2e-7), (56.62, 0.0), (57.49, 0.0), (57.52, 2.7e-7), (57.69, 2.45e-7),
    (58.22, 1.73e-7), (58.74, 1.29e-7), (59.00, 1.06e-7), (59.26, 8.7e-8), (59.52, 7.5e-8),
    (59.78, 7.4e-8), (60.07, 8.3e-8), (60.17, 7.5e-8), (60.30, 1.06e-7), (60.56, 9.1e-8),
    (60.83, 8.3e-8), (61.02, 6.5e-8), (61.22, 5.4e-8), (61.48, 6.5e-8), (61.57, 1.12e-7),
    (61.80, 7.2e-8), (62.06, 6.0e-8), (62.14, 1.73e-7), (62.39, 9.6e-8), (62.52, 6.5e-8),
    (62.72, 4.4e-8), (62.98, 4.4e-8), (63.17, 3.9e-8), (63.37, 4.2e-8), (63.54, 5.3e-8),
    (63.70, 4.4e-8), (63.93, 4.8e-8), (64.09, 7.2e-8), (64.18, 2.57e-7), (64.41, 1.06e-7),
    (64.67, 3.6e-8), (64.87, 2.4e-8), (65.00, 2.2e-8), (65.16, 2.4e-8), (65.30, 1.77e-7),
    (65.52, 4.8e-8), (65.65, 2.11e-7), (65.78, 3.45e-8), (65.98, 2.1e-8), (66.17, 2.0e-8),
    (66.34, 2.55e-8), (66.56, 1.64e-8), (66.70, 1.8e-8), (66.89, 1.8e-8), (67.09, 2.4e-8),
    (67.24, 5.9e-8), (67.45, 7.2e-8), (67.67, 2.11e-7), (67.94, 8.7e-8), (68.07, 5.3e-8),
    (68.26, 6.8e-8), (68.52, 4.2e-8), (68.78, 4.2e-8), (69.02, 3.9e-8), (69.17, 9.1e-8),
    (69.28, 5.65e-7), (69.50, 7.9e-8), (69.76, 3.3e-8), (70.02, 1.9e-8), (70.22, 2.4e-8),
    (70.35, 2.4e-8), (70.38, 1.17e-7), (70.54, 3.3e-8), (70.64, 7.9e-8), (70.74, 2.1e-8),
    (71.00, 2.7e-8), (71.20, 2.8e-8), (71.29, 7.9e-8), (71.42, 2.95e-8),
]

# GOES-18 1.0-8.0 A (gold): lies on the GOES-16 curve, own readings only while GOES-16 is out
goes18_long_fill = [
    (4.66, 6.0e-6), (4.79, 6.4e-6), (4.92, 5.2e-6), (5.05, 4.25e-6), (5.18, 3.95e-6),
    (28.52, 3.25e-6), (28.66, 2.86e-6), (28.86, 2.73e-6), (29.05, 2.68e-6), (29.19, 2.8e-6),
    (29.32, 3.16e-6),
    (52.50, 3.4e-6), (52.67, 3.7e-6), (52.80, 3.66e-6), (52.93, 4.25e-6), (53.02, 5.0e-6),
    (53.10, 5.3e-6), (53.23, 4.7e-6), (53.32, 4.25e-6),
]
goes18_outages = [(8.68, 9.41), (32.62, 33.44), (56.62, 57.49)]

class_labels = ["A", "B", "C", "M", "X"]
day_marks = ["2024-09-06", "2024-09-07"]


def to_frame(pairs):
    df = pd.DataFrame(pairs, columns=["hour", "flux"])
    df["time"] = START + pd.to_timedelta(df["hour"], unit="h")
    return df


red = to_frame(goes16_long)
blue = to_frame(goes16_short)
cyan = to_frame(goes18_short)

gold = pd.concat([red[red.flux > 0], to_frame(goes18_long_fill)])
for a, b in goes18_outages:
    gold = gold[(gold.hour < a) | (gold.hour > b)]
    gold = pd.concat([gold, to_frame([(a, 0.0), (b, 0.0)])])
gold = gold.sort_values("hour")

fig = plt.figure(figsize=(20, 6.5), dpi=100)
ax = fig.add_axes([0.0504, 0.137, 0.9196, 0.8395])
ax.set_yscale("log", nonpositive="clip")

lw = 1.3
l1, = ax.plot(gold.time, gold.flux, color="gold", lw=lw, label=r"GOES-18 1.0-8.0$\AA$")
l2, = ax.plot(red.time, red.flux, color="red", lw=lw, label=r"GOES-16 1.0-8.0$\AA$")
l3, = ax.plot(cyan.time, cyan.flux, color="cyan", lw=lw, label=r"GOES-18 0.5-4.0$\AA$")
l4, = ax.plot(blue.time, blue.flux, color="blue", lw=lw, label=r"GOES-16 0.5-4.0$\AA$")

for d in day_marks:
    ax.axvline(pd.Timestamp(d), color="black", lw=1.0)

ax.set_ylim(1e-9, 1e-2)
ax.set_yticks([1e-8, 1e-7, 1e-6, 1e-5, 1e-4, 1e-3])
ax.yaxis.set_minor_locator(mticker.LogLocator(base=10, subs=np.arange(2, 10), numticks=20))
ax.yaxis.set_minor_formatter(mticker.NullFormatter())
ax.yaxis.grid(True, which="major", color="#b0b0b0", lw=1.0)
ax.set_axisbelow(True)

ax.set_xlim(START, START + pd.Timedelta(hours=72))
ax.xaxis.set_major_locator(mdates.HourLocator(byhour=[0, 8, 16]))


def fmt_time(x, pos):
    d = mdates.num2date(x)
    if d.hour == 0:
        return d.strftime("%H:%M\n%b %d")
    return d.strftime("%H:%M")


ax.xaxis.set_major_formatter(mticker.FuncFormatter(fmt_time))
ax.tick_params(axis="both", which="major", direction="in", labelsize=15, length=7)
ax.tick_params(axis="y", which="minor", direction="in", length=4)

ax.set_xlabel("Time (UTC)", fontsize=15)
ax.set_ylabel(r"Flux (Watts $\cdot$ m$^{-2}$)", fontsize=15)

ax2 = ax.twinx()
ax2.set_yscale("log")
ax2.set_ylim(1e-9, 1e-2)
ax2.set_yticks(np.logspace(-7.5, -3.5, len(class_labels)), class_labels)
ax2.tick_params(axis="y", which="major", length=0, labelsize=15, pad=3)
ax2.tick_params(axis="y", which="minor", direction="in", length=4)
ax2.yaxis.set_minor_formatter(mticker.NullFormatter())
ax2.set_ylabel("GOES Class", fontsize=15)

ax.legend(handles=[l1, l2, l3, l4], loc="upper center", ncol=2, fontsize=10,
          handlelength=2.3, handletextpad=0.8, columnspacing=1.0)

ax.text(0.9875, 0.022, "SolarMonitor.org : 08-Sep-2024 00:30 UTC", transform=ax.transAxes,
        ha="right", va="bottom", fontsize=11)

fig.savefig("out.png", dpi=100)
